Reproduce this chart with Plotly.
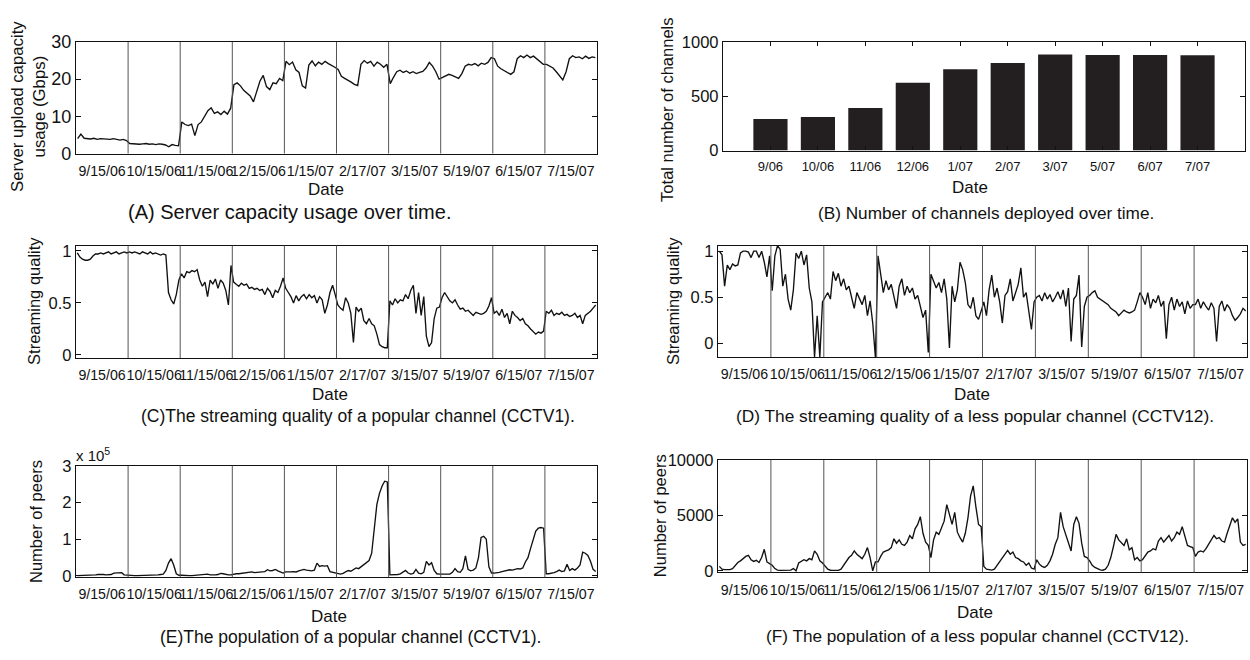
import plotly.graph_objects as go

W, H = 1250, 660
FONT = "Liberation Sans, Arial, Helvetica, sans-serif"

# ---------------- data ----------------
date_labels = ["9/15/06", "10/15/06", "11/15/06", "12/15/06", "1/15/07",
               "2/17/07", "3/15/07", "5/19/07", "6/15/07", "7/15/07"]
month_labels = ["9/06", "10/06", "11/06", "12/06", "1/07",
                "2/07", "3/07", "5/07", "6/07", "7/07"]
channel_counts = [290, 310, 393, 624, 748, 807, 885, 881, 881, 878]

# (A) server upload capacity usage, Gbps, one list per trace segment
server_gbps = [
    [4.0, 5.2, 4.1, 4.0, 3.9, 4.1, 3.8, 4.0, 3.9, 3.7, 3.8, 4.0, 3.7, 3.6, 3.8, 3.5],
    [2.7, 2.6, 2.7, 2.5, 2.6, 2.7, 2.5, 2.6, 2.4, 2.6, 2.5, 2.3, 1.8, 2.4, 2.2, 2.1],
    [8.5, 7.8, 7.5, 7.9, 4.8, 7.8, 8.5, 10.2, 11.5, 12.3, 10.8, 11.2, 10.5, 11.4, 10.6, 12.2],
    [18.5, 19.0, 18.2, 17.0, 16.2, 15.5, 13.9, 16.5, 19.5, 21.0, 18.0, 17.2, 19.0, 18.8, 20.2, 19.6],
    [24.8, 23.9, 24.6, 22.5, 21.8, 18.2, 17.6, 23.8, 24.9, 23.6, 24.6, 24.0, 24.8, 24.2, 23.8, 23.2],
    [22.6, 20.8, 20.2, 19.8, 19.2, 18.6, 18.3, 24.0, 25.0, 24.3, 24.8, 23.5, 24.6, 24.0, 23.2, 24.0],
    [18.8, 20.5, 22.0, 22.4, 21.8, 22.2, 21.6, 22.0, 21.5, 21.8, 22.1, 23.0, 24.5, 23.5, 22.0, 20.0],
    [20.5, 21.0, 21.3, 21.0, 20.7, 20.2, 21.5, 23.5, 24.0, 23.8, 24.2, 23.6, 24.3, 24.0, 24.5, 25.8],
    [25.5, 23.5, 22.8, 22.3, 21.8, 21.3, 22.0, 25.5, 26.3, 25.8, 26.5, 25.8, 26.2, 25.5, 24.8, 24.0],
    [24.0, 23.5, 23.0, 22.0, 21.0, 19.8, 22.0, 25.5, 26.3, 25.8, 26.0, 25.5, 26.2, 25.6, 26.0, 25.8],
]

# (C) streaming quality of CCTV1
cctv1_quality = [
    [0.98, 0.94, 0.92, 0.91, 0.91, 0.92, 0.95, 0.97, 0.97, 0.98, 0.97, 0.98, 0.99, 0.97, 0.98, 0.99, 0.97, 0.98, 0.99, 0.98],
    [0.99, 0.98, 0.99, 0.98, 0.97, 0.99, 0.98, 0.97, 0.99, 0.97, 0.98, 0.97, 0.96, 0.97, 0.96, 0.60, 0.53, 0.49, 0.58, 0.72],
    [0.78, 0.74, 0.80, 0.79, 0.81, 0.80, 0.82, 0.72, 0.66, 0.70, 0.56, 0.72, 0.68, 0.73, 0.64, 0.72, 0.69, 0.62, 0.48, 0.86],
    [0.70, 0.68, 0.66, 0.69, 0.67, 0.68, 0.64, 0.65, 0.63, 0.64, 0.62, 0.63, 0.58, 0.64, 0.61, 0.55, 0.62, 0.60, 0.66, 0.74],
    [0.64, 0.60, 0.56, 0.50, 0.57, 0.52, 0.56, 0.58, 0.54, 0.58, 0.55, 0.57, 0.50, 0.56, 0.53, 0.40, 0.48, 0.60, 0.67, 0.58],
    [0.48, 0.45, 0.43, 0.55, 0.50, 0.40, 0.12, 0.46, 0.42, 0.45, 0.33, 0.30, 0.35, 0.30, 0.28, 0.20, 0.10, 0.08, 0.07, 0.07],
    [0.52, 0.48, 0.54, 0.50, 0.53, 0.52, 0.58, 0.54, 0.62, 0.67, 0.40, 0.60, 0.38, 0.56, 0.18, 0.08, 0.12, 0.35, 0.45, 0.46],
    [0.55, 0.60, 0.56, 0.52, 0.50, 0.53, 0.48, 0.44, 0.45, 0.42, 0.43, 0.40, 0.38, 0.41, 0.40, 0.39, 0.40, 0.42, 0.47, 0.55],
    [0.40, 0.42, 0.38, 0.44, 0.36, 0.40, 0.30, 0.42, 0.38, 0.36, 0.33, 0.35, 0.30, 0.28, 0.25, 0.22, 0.20, 0.22, 0.21, 0.23],
    [0.42, 0.40, 0.43, 0.38, 0.40, 0.39, 0.41, 0.38, 0.39, 0.37, 0.38, 0.40, 0.36, 0.38, 0.30, 0.38, 0.40, 0.42, 0.45, 0.48],
]

# (D) streaming quality of CCTV12
cctv12_quality = [
    [1.0, 0.96, 0.62, 0.85, 0.80, 0.86, 0.84, 0.85, 0.98, 1.0, 1.0, 0.99, 0.93, 1.0, 1.0, 0.93, 1.0, 0.88, 0.72, 0.95],
    [0.57, 0.95, 1.06, 1.02, 0.62, 0.75, 0.48, 0.36, 0.58, 0.98, 0.92, 1.0, 0.85, 0.96, 0.60, 0.45, -0.15, 0.30, -0.15, 0.45],
    [0.50, 0.55, 0.48, 0.78, 0.68, 0.76, 0.62, 0.70, 0.58, 0.62, 0.50, 0.38, 0.55, 0.48, 0.42, 0.52, 0.30, 0.46, 0.22, -0.15],
    [0.95, 0.75, 0.55, 0.68, 0.58, 0.64, 0.50, 0.38, 0.62, 0.70, 0.52, 0.62, 0.55, 0.60, 0.48, 0.52, 0.40, 0.28, 0.36, -0.10],
    [0.75, 0.68, 0.60, 0.66, 0.55, 0.70, 0.48, -0.05, 0.62, 0.45, 0.58, 0.88, 0.80, 0.66, 0.42, 0.38, 0.50, 0.30, 0.26, 0.35],
    [0.45, 0.30, 0.58, 0.74, 0.50, 0.60, 0.45, 0.22, 0.52, 0.56, 0.70, 0.46, 0.55, 0.64, 0.82, 0.50, 0.55, 0.36, 0.15, 0.45],
    [0.50, 0.52, 0.46, 0.55, 0.48, 0.53, 0.45, 0.50, 0.56, 0.48, 0.58, 0.40, 0.60, 0.02, 0.48, 0.52, 0.74, -0.04, 0.40, 0.50],
    [0.52, 0.55, 0.57, 0.50, 0.48, 0.46, 0.44, 0.42, 0.38, 0.36, 0.34, 0.30, 0.33, 0.36, 0.34, 0.33, 0.34, 0.36, 0.45, 0.55],
    [0.50, 0.42, 0.55, 0.38, 0.48, 0.44, 0.52, 0.40, 0.46, 0.05, 0.42, 0.50, 0.36, 0.48, 0.40, 0.45, 0.32, 0.46, 0.38, 0.42],
    [0.42, 0.48, 0.38, 0.45, 0.40, 0.36, 0.44, 0.38, 0.02, 0.40, 0.46, 0.35, 0.42, 0.38, 0.30, 0.25, 0.28, 0.32, 0.38, 0.35],
]

# (E) number of peers of CCTV1, in units of 10^5
cctv1_peers_e5 = [
    [0.01, 0.01, 0.01, 0.02, 0.02, 0.02, 0.03, 0.03, 0.04, 0.05, 0.04, 0.03, 0.03, 0.04, 0.08, 0.09, 0.08, 0.09, 0.03, 0.02],
    [0.01, 0.01, 0.01, 0.01, 0.01, 0.02, 0.02, 0.02, 0.03, 0.02, 0.03, 0.03, 0.04, 0.05, 0.15, 0.35, 0.47, 0.30, 0.06, 0.02],
    [0.02, 0.01, 0.01, 0.01, 0.01, 0.02, 0.02, 0.02, 0.03, 0.04, 0.05, 0.03, 0.02, 0.03, 0.04, 0.07, 0.06, 0.04, 0.03, 0.03],
    [0.05, 0.06, 0.06, 0.07, 0.07, 0.08, 0.10, 0.11, 0.09, 0.10, 0.09, 0.10, 0.12, 0.17, 0.14, 0.15, 0.18, 0.14, 0.10, 0.08],
    [0.11, 0.10, 0.11, 0.12, 0.11, 0.14, 0.17, 0.18, 0.16, 0.15, 0.14, 0.16, 0.35, 0.26, 0.28, 0.27, 0.28, 0.12, 0.10, 0.08],
    [0.05, 0.05, 0.07, 0.10, 0.15, 0.13, 0.18, 0.22, 0.20, 0.26, 0.30, 0.36, 0.42, 0.62, 1.20, 1.95, 2.25, 2.45, 2.58, 2.56],
    [0.03, 0.03, 0.03, 0.04, 0.06, 0.10, 0.15, 0.08, 0.05, 0.07, 0.18, 0.08, 0.06, 0.10, 0.40, 0.30, 0.36, 0.15, 0.06, 0.05],
    [0.05, 0.04, 0.03, 0.05, 0.10, 0.20, 0.12, 0.10, 0.20, 0.55, 0.18, 0.14, 0.16, 0.22, 0.50, 1.05, 1.08, 1.00, 0.25, 0.08],
    [0.08, 0.08, 0.10, 0.12, 0.14, 0.16, 0.17, 0.16, 0.18, 0.20, 0.19, 0.22, 0.38, 0.50, 0.75, 1.00, 1.22, 1.30, 1.32, 1.30],
    [0.06, 0.06, 0.07, 0.09, 0.12, 0.16, 0.12, 0.14, 0.32, 0.15, 0.20, 0.16, 0.22, 0.30, 0.65, 0.62, 0.56, 0.40, 0.18, 0.12],
]

# (F) number of peers of CCTV12
cctv12_peers = [
    [400, 150, 100, 80, 100, 200, 500, 750, 900, 1100, 1300, 1400, 1000, 850, 950, 750, 1200, 1950, 800, 650],
    [500, 200, 60, 40, 30, 30, 40, 60, 200, 0, 700, 850, 1000, 900, 1100, 1000, 1800, 1500, 900, 700],
    [400, 150, 50, 30, 30, 40, 150, 500, 900, 1200, 1400, 1800, 1500, 1300, 1100, 1500, 2100, 1200, 0, 800],
    [800, 1300, 1700, 1800, 1900, 2100, 2900, 2500, 2800, 2400, 2300, 2600, 3200, 2900, 3800, 4200, 4900, 3400, 2600, 2300],
    [1200, 2800, 3500, 3300, 4000, 4500, 6000, 5200, 4200, 5300, 3500, 3000, 2600, 3400, 4800, 6800, 7700, 5800, 4200, 4000],
    [400, 150, 80, 60, 150, 500, 900, 1200, 1500, 1850, 1500, 1700, 1200, 1100, 900, 800, 500, 700, 250, 150],
    [1000, 600, 400, 300, 500, 900, 1500, 2400, 3000, 5300, 4000, 3200, 2600, 1800, 4200, 4900, 4300, 2500, 1300, 1200],
    [900, 500, 300, 150, 80, 50, 150, 500, 1200, 2200, 3300, 2800, 2500, 2300, 2900, 1900, 2100, 1000, 1200, 900],
    [1000, 1400, 1700, 1800, 2000, 1900, 2700, 3000, 2600, 2900, 3200, 2700, 3000, 3500, 3300, 4000, 3200, 2300, 2200, 2100],
    [1300, 1700, 1800, 1700, 2000, 2400, 2800, 3200, 2900, 3000, 2700, 2600, 3400, 4200, 4800, 4400, 4700, 2600, 2300, 2400],
]

segment_bounds = [1, 2, 3, 4, 5, 6, 7, 8, 9]

# ---------------- layout helpers ----------------
def fx(p):
    return p / W


def fy(p):
    return 1 - p / H


# panel boxes in pixels: (left, right, top, bottom)
boxes = {
    "A": (76, 597, 33, 148),
    "B": (723, 1245, 33, 145),
    "C": (76, 597, 243, 359),
    "D": (718, 1247, 243, 358),
    "E": (76, 597, 470, 585),
    "F": (718, 1247, 464, 580),
}
yranges = {
    "A": [0, 30],
    "B": [0, 1000],
    "C": [-0.03, 1.05],
    "D": [-0.15, 1.06],
    "E": [-0.035, 3.0],
    "F": [-150, 10050],
}
yticks = {
    "A": [0, 10, 20, 30],
    "B": [0, 500, 1000],
    "C": [0, 0.5, 1],
    "D": [0, 0.5, 1],
    "E": [0, 1, 2, 3],
    "F": [0, 5000, 10000],
}
ytick_size = {"A": 18, "B": 16.5, "C": 16.5, "D": 16.5, "E": 16.5, "F": 16.5}
order = ["A", "B", "C", "D", "E", "F"]
series = {"A": server_gbps, "C": cctv1_quality, "D": cctv12_quality,
          "E": cctv1_peers_e5, "F": cctv12_peers}

fig = go.Figure()
layout = dict(
    width=W, height=H, margin=dict(l=0, r=0, t=0, b=0),
    paper_bgcolor="white", plot_bgcolor="white", showlegend=False,
    font=dict(family=FONT, color="#111"),
)
shapes = []
annotations = []

for i, key in enumerate(order):
    n = i + 1
    xa = "xaxis" if n == 1 else f"xaxis{n}"
    ya = "yaxis" if n == 1 else f"yaxis{n}"
    xr = "x" if n == 1 else f"x{n}"
    yr = "y" if n == 1 else f"y{n}"
    l, r, t, b = boxes[key]
    common = dict(showgrid=False, zeroline=False, showline=True,
                  linecolor="#111", linewidth=1.3)
    if key == "B":
        fig.add_trace(go.Bar(x=month_labels, y=channel_counts, width=0.72,
                             marker=dict(color="#231f20", line=dict(width=0)),
                             xaxis=xr, yaxis=yr))
        layout[xa] = dict(domain=[fx(l), fx(r)], anchor=yr, type="category",
                          range=[-1, 10], ticks="inside", ticklen=4,
                          tickcolor="#111", mirror="ticks", tickangle=0,
                          tickfont=dict(size=13, family=FONT, color="#111"),
                          ticklabelstandoff=4, **common)
    else:
        segs = series[key]
        xs, ys = [], []
        for s, seg in enumerate(segs):
            m = len(seg)
            for k, v in enumerate(seg):
                xs.append(s + (k + 0.5) / m)
                ys.append(v)
        fig.add_trace(go.Scatter(x=xs, y=ys, mode="lines",
                                 line=dict(color="#111", width=1.35),
                                 xaxis=xr, yaxis=yr, hoverinfo="skip"))
        layout[xa] = dict(domain=[fx(l), fx(r)], anchor=yr, range=[0, 10],
                          tickvals=[s + 0.5 for s in range(10)],
                          ticktext=date_labels, ticks="", mirror=True,
                          tickangle=0,
                          tickfont=dict(size=14.2, family=FONT, color="#111"),
                          ticklabelstandoff=4, **common)
        for d in segment_bounds:
            shapes.append(dict(type="line", xref=xr, yref=f"{yr} domain",
                               x0=d, x1=d, y0=0, y1=1,
                               line=dict(color="#555", width=1)))
    layout[ya] = dict(domain=[fy(b), fy(t)], anchor=xr, range=yranges[key],
                      tickvals=yticks[key], ticks="inside", ticklen=5,
                      tickcolor="#111", mirror="ticks", tickformat="d",
                      tickfont=dict(size=ytick_size[key], family=FONT, color="#111"),
                      **common)
# decimal ticks for the quality panels
layout["yaxis3"]["tickformat"] = ""
layout["yaxis4"]["tickformat"] = ""


def note(text, px, py, size, angle=0, xanchor="center"):
    annotations.append(dict(text=text, x=fx(px), y=fy(py), xref="paper",
                            yref="paper", showarrow=False, textangle=angle,
                            xanchor=xanchor, yanchor="middle",
                            font=dict(size=size, family=FONT, color="#111")))


# "Date" axis titles
note("Date", 326, 185, 17)
note("Date", 970, 183, 17)
note("Date", 330, 397, 17)
note("Date", 972, 396, 17)
note("Date", 329, 625, 17)
note("Date", 975, 621, 17)

# captions
note("(A) Server capacity usage over time.", 289, 208, 20)
note("(B) Number of channels deployed over time.", 986, 209, 17.2)
note("(C)The streaming quality of a popular channel (CCTV1).", 358, 419, 17.5)
note("(D) The streaming quality of a less popular channel (CCTV12).", 975, 419, 17.3)
note("(E)The population of a popular channel (CCTV1).", 350, 647, 17.5)
note("(F) The population of a less popular channel (CCTV12).", 977, 646, 17.2)

# y-axis titles
note("Server upload capacity<br>usage (Gbps)", 29, 100, 16.8, angle=-90)
note("Total number of channels", 667, 103, 16.5, angle=-90)
note("Streaming quality", 34, 300, 16.5, angle=-90)
note("Streaming quality", 673, 300, 16.5, angle=-90)
note("Number of peers", 36, 528, 16.5, angle=-90)
note("Number of peers", 660, 522, 16.5, angle=-90)

# exponent label for panel E
note("x 10<sup>5</sup>", 74, 458, 15, xanchor="left")

layout["shapes"] = shapes
layout["annotations"] = annotations
fig.update_layout(**layout)
fig.write_html("out.html")
